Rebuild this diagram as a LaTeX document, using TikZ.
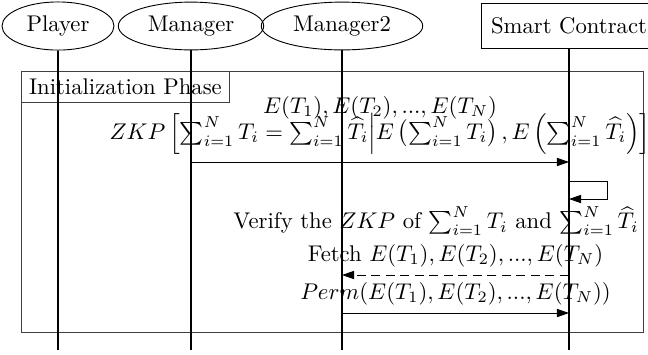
\documentclass[tikz,border=0pt]{standalone}
\usepackage{amsmath,amssymb}
\usepackage{xcolor}
\usepackage{tikz}
\usetikzlibrary{arrows.meta,shapes.geometric,positioning,calc}
\tikzset{
  actor/.style={ellipse,draw,inner xsep=3.6pt,inner ysep=3pt},
  caja/.style={rectangle,draw,minimum height=20pt,minimum width=77pt},
  vida/.style={line width=0.9pt},
  flecha/.style={-{Triangle[length=5.3pt,width=3.6pt]},thin},
  marco/.style={draw=black!75,thin}
}

\begin{document}
\begin{tikzpicture}[x=0.4405pt,y=-0.4405pt]
\useasboundingbox (0,0) rectangle (648,354);
% cabeceras
\node[actor] (player) at (58,26) {Player};
\node[actor] (manager) at (191,26) {Manager};
\node[actor] (manager2) at (342,26) {Manager2};
\node[caja] (contract) at (569,26) {Smart Contract};
% fase
\draw[marco] (21,71) rectangle (643,332);
\node[rectangle,marco,anchor=north west] (fase) at (21,71) {Initialization Phase};
% lineas de vida
\coordinate (fondo) at (0,350);
\foreach \n in {player,manager,manager2,contract}
  \draw[vida] (\n.south) -- (\n.south |- fondo);
% pasos
\coordinate (y1) at (0,162);
\coordinate (y2) at (0,181);
\coordinate (y3) at (0,275);
\coordinate (y4) at (0,313);
\draw[flecha] (manager |- y1) -- node[above] (zkp)
  {$ZKP\left[\sum_{i=1}^N T_i=\sum_{i=1}^N \widehat{T}_i \middle| E\mathinner{\bigl(\sum_{i=1}^N T_i\bigr)}, E\left(\sum_{i=1}^N \widehat{T}_i\right)\right]$}
  (contract |- y1);
\node[anchor=base] (lista) at (380,113) {$E(T_1),E(T_2),...,E(T_N)$};
\draw[flecha] (contract |- y2) -- ++(38,0) -- ++(0,18) -- ($(contract |- y2)+(0,18)$);
\node (verifica) at (436,221) {Verify the $ZKP$ of $\sum_{i=1}^N T_i$ and $\sum_{i=1}^N \widehat{T}_i$};
\draw[flecha,dash pattern=on 4pt off 2.4pt] (contract |- y3) -- node[above] (fetch)
  {Fetch $E(T_1),E(T_2),...,E(T_N)$} (manager2 |- y3);
\draw[flecha] (manager2 |- y4) -- node[above] (perm)
  {$Perm(E(T_1),E(T_2),...,E(T_N))$} (contract |- y4);
\end{tikzpicture}
\end{document}
